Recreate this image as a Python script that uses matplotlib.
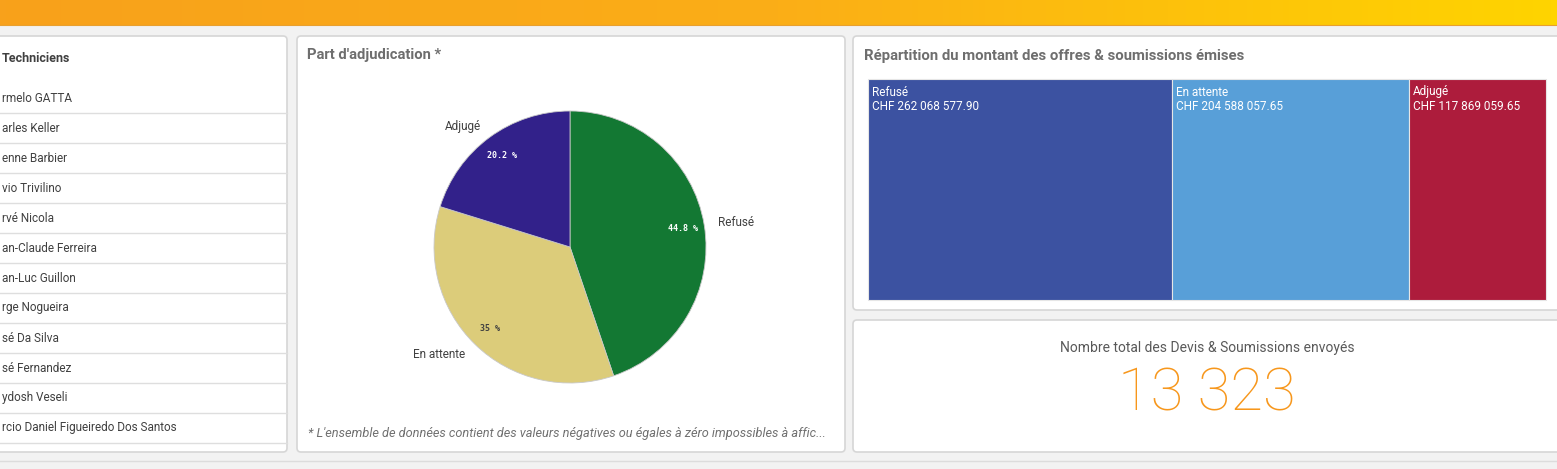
import numpy as np
import matplotlib
matplotlib.use("Agg")
import matplotlib.pyplot as plt
from matplotlib.patches import FancyBboxPatch, Rectangle
from matplotlib.colors import LinearSegmentedColormap

W, H = 1557, 469

# data
technicians = ["rmelo GATTA", "arles Keller", "enne Barbier", "vio Trivilino", "rvé Nicola",
               "an-Claude Ferreira", "an-Luc Guillon", "rge Nogueira", "sé Da Silva",
               "sé Fernandez", "ydosh Veseli", "rcio Daniel Figueiredo Dos Santos"]
status = ["Refusé", "En attente", "Adjugé"]
share_pct = [44.8, 35.0, 20.2]
share_colors = ["#137833", "#dccc7a", "#32218a"]
amounts = [262068577.90, 204588057.65, 117869059.65]
amount_labels = ["CHF 262 068 577.90", "CHF 204 588 057.65", "CHF 117 869 059.65"]
amount_colors = ["#3c52a1", "#589fd8", "#ad1c3c"]
total_count = "13 323"

plt.rcParams['font.family'] = ["Roboto", "DejaVu Sans"]

fig = plt.figure(figsize=(W / 100, H / 100), dpi=100)
fig.patch.set_facecolor("#f2f2f2")
ax = fig.add_axes([0, 0, 1, 1])

# header gradient
cmap = LinearSegmentedColormap.from_list("hdr", ["#f8a11b", "#fbae17", "#ffd400"])
ax.imshow(np.linspace(0, 1, 512)[None, :], extent=[0, W, 25, 0], cmap=cmap, aspect="auto", zorder=1)
ax.plot([0, W], [25, 25], color="#e8a030", lw=0.8, zorder=2)
ax.set_xlim(0, W)
ax.set_ylim(H, 0)
ax.axis("off")


def panel(x0, y0, x1, y1):
    ax.add_patch(FancyBboxPatch((x0, y0), x1 - x0, y1 - y0,
                                boxstyle="round,pad=0,rounding_size=4",
                                fc="white", ec="#d6d6d6", lw=1.2, zorder=2))


panel(-10, 36, 287, 452)
panel(297, 36, 845, 452)
panel(853, 36, W + 10, 310)
panel(853, 320, W + 10, 452)
ax.plot([0, W], [461, 461], color="#dcdcdc", lw=1, zorder=2)

# technicians list
ax.text(2, 58, "Techniciens", fontsize=9, fontweight="bold", color="#404040", va="center", zorder=3)
for i, name in enumerate(technicians):
    y = 98 + 30 * i
    ax.text(2, y, name, fontsize=8.5, color="#404040", va="center", zorder=3)
    ax.plot([0, 287], [y + 15, y + 15], color="#dedede", lw=1, zorder=3)

# pie panel
ax.text(307, 55, "Part d'adjudication *", fontsize=10.6, fontweight="bold", color="#6e6e6e",
        va="center", zorder=3)
ax.text(308, 433, "* L'ensemble de données contient des valeurs négatives ou égales à zéro impossibles à affic...",
        fontsize=9.2, fontstyle="italic", color="#707070", va="center", zorder=3)

cx, cy, half = 570, 247, 170
axp = fig.add_axes([(cx - half) / W, (H - cy - half) / H, 2 * half / W, 2 * half / H])
axp.set_xlim(-1.25, 1.25)
axp.set_ylim(-1.25, 1.25)
axp.axis("off")
axp.patch.set_alpha(0)


def fmt(p):
    s = f"{p:.1f}"
    if s.endswith(".0"):
        s = s[:-2]
    return s + " %"


wedges, texts, autotexts = axp.pie(share_pct, labels=status, colors=share_colors, startangle=90,
                                   counterclock=False, radius=1, autopct=fmt, pctdistance=0.84,
                                   labeldistance=1.1,
                                   wedgeprops=dict(edgecolor="#c8c8c8", linewidth=0.6),
                                   textprops=dict(fontsize=8.5, color="#404040"))
for t, c in zip(autotexts, ["white", "#404040", "white"]):
    t.set_color(c)
    t.set_fontsize(6)
    t.set_fontfamily("DejaVu Sans Mono")
    t.set_fontweight("bold")

# treemap
ax.text(864, 56, "Répartition du montant des offres & soumissions émises", fontsize=10.7,
        fontweight="bold", color="#6e6e6e", va="center", zorder=3)
tx0, tx1, ty0, ty1 = 868, 1546, 79, 300
edges = tx0 + (tx1 - tx0) * np.concatenate([[0], np.cumsum(amounts)]) / np.sum(amounts)
for i in range(len(amounts)):
    ax.add_patch(Rectangle((edges[i], ty0), edges[i + 1] - edges[i], ty1 - ty0,
                           fc=amount_colors[i], ec="#e6e6e6", lw=0.8, zorder=3))
    ax.text(edges[i] + 4, 92, status[i], fontsize=8.5, color="white", va="center", zorder=4)
    ax.text(edges[i] + 4, 107, amount_labels[i], fontsize=8.5, color="white", va="center", zorder=4)

# KPI
ax.text(1207, 348, "Nombre total des Devis & Soumissions envoyés", fontsize=10, color="#595959",
        ha="center", va="center", zorder=3)
ax.text(1207, 394, total_count, fontsize=43, color="#f7971c", fontweight="light",
        ha="center", va="center", zorder=3)

fig.savefig("out.png", dpi=100, facecolor=fig.get_facecolor())
